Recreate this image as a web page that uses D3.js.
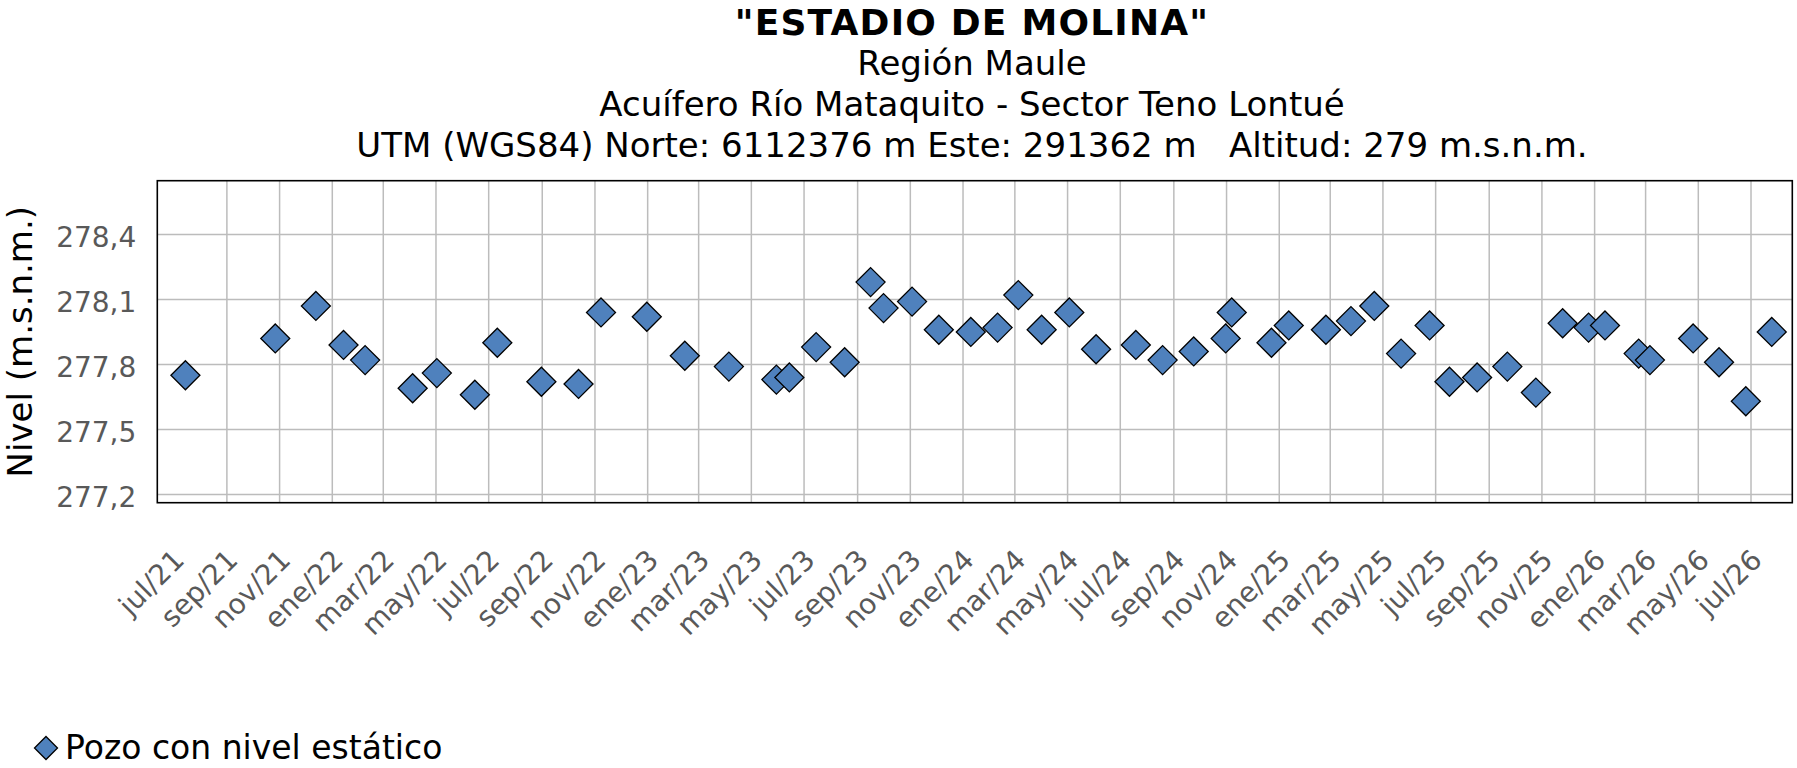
<!DOCTYPE html>
<html>
<head>
<meta charset="utf-8">
<script src="https://cdn.jsdelivr.net/npm/d3@7"></script>
<style>
html,body{margin:0;padding:0;background:#fff;}
svg{display:block;font-family:"DejaVu Sans",Verdana,sans-serif;}
</style>
</head>
<body>
<svg id="chart" width="1797" height="768"></svg>
<script>
// ---- data ----
const dates = ["2021-07-15","2021-10-27","2021-12-13","2022-01-14","2022-02-08","2022-04-04","2022-05-02","2022-06-15","2022-07-11","2022-08-31",
"2022-10-13","2022-11-08","2022-12-31","2023-02-13","2023-04-05","2023-05-30","2023-06-14","2023-07-15","2023-08-17","2023-09-16",
"2023-10-01","2023-11-03","2023-12-04","2024-01-10","2024-02-10","2024-03-05","2024-04-01","2024-05-03","2024-06-03","2024-07-19",
"2024-08-19","2024-09-24","2024-10-31","2024-11-07","2024-12-23","2025-01-12","2025-02-24","2025-03-25","2025-04-21","2025-05-22",
"2025-06-24","2025-07-17","2025-08-18","2025-09-22","2025-10-25","2025-11-25","2025-12-25","2026-01-13","2026-02-21","2026-03-06",
"2026-04-25","2026-05-25","2026-06-25","2026-07-25"];
const levels = [277.75,277.92,278.07,277.89,277.82,277.69,277.76,277.66,277.90,277.72,
277.71,278.04,278.02,277.84,277.79,277.73,277.74,277.88,277.81,278.18,
278.06,278.09,277.96,277.95,277.97,278.12,277.96,278.04,277.87,277.89,
277.82,277.86,277.92,278.04,277.90,277.98,277.96,278.00,278.07,277.85,
277.98,277.72,277.74,277.79,277.67,277.99,277.97,277.98,277.85,277.82,
277.92,277.81,277.63,277.95];
const tickLabels = ["jul/21","sep/21","nov/21","ene/22","mar/22","may/22","jul/22","sep/22","nov/22","ene/23",
"mar/23","may/23","jul/23","sep/23","nov/23","ene/24","mar/24","may/24","jul/24","sep/24",
"nov/24","ene/25","mar/25","may/25","jul/25","sep/25","nov/25","ene/26","mar/26","may/26","jul/26"];
const yTicks = [277.2, 277.5, 277.8, 278.1, 278.4];
const xDomain = ["2021-06-12T11:00","2026-08-17T19:00"];
const yDomain = [277.162, 278.648];
const titleMain = "\"ESTADIO DE MOLINA\"";
const subtitles = ["Región Maule","Acuífero Río Mataquito - Sector Teno Lontué","UTM (WGS84) Norte: 6112376 m Este: 291362 m   Altitud: 279 m.s.n.m."];
const yTitle = "Nivel (m.s.n.m.)";
const seriesName = "Pozo con nivel estático";

// ---- layout ----
const W = 1797, H = 768;
const m = {left:157.3, right:4.7, top:180.7, bottom:265.3};
const pw = W - m.left - m.right, ph = H - m.top - m.bottom;
const markerFill = "#4F81BD";
const gridColor = "#bcbcbc";
const tickColor = "#595959";

const svg = d3.select("#chart");
const parseD = d3.utcParse("%Y-%m-%d");
const parseDT = d3.utcParse("%Y-%m-%dT%H:%M");
const x = d3.scaleUtc().domain(xDomain.map(parseDT)).range([0, pw]);
const y = d3.scaleLinear().domain(yDomain).range([ph, 0]);
const loc = d3.formatLocale({decimal:",", thousands:".", grouping:[3], currency:["$",""]});
const fmt = loc.format(".1f");

const tickDates = d3.utcMonth.every(2).range(parseD("2021-07-01"), parseD("2026-07-02"));
const gridDates = tickDates.slice(1);

const g = svg.append("g").attr("transform", `translate(${m.left},${m.top})`);

// gridlines
g.append("g").selectAll("line").data(gridDates).join("line")
  .attr("x1", d => x(d)).attr("x2", d => x(d)).attr("y1", 0).attr("y2", ph)
  .attr("stroke", gridColor).attr("stroke-width", 1.5);
g.append("g").selectAll("line").data(yTicks).join("line")
  .attr("x1", 0).attr("x2", pw).attr("y1", d => y(d)).attr("y2", d => y(d))
  .attr("stroke", gridColor).attr("stroke-width", 1.5);

// border
g.append("rect").attr("x",0).attr("y",0).attr("width",pw).attr("height",ph)
  .attr("fill","none").attr("stroke","#000").attr("stroke-width",1.6);

// y axis labels
const yAxis = g.append("g").call(d3.axisLeft(y).tickValues(yTicks).tickFormat(fmt).tickSize(0).tickPadding(0));
yAxis.select(".domain").remove();
yAxis.selectAll("text").attr("x", -21).attr("dy", null).attr("y", 12)
  .attr("fill", tickColor).style("font-size","28px").style("font-family","'DejaVu Sans',Verdana,sans-serif");

// x axis labels
const xAxis = g.append("g").attr("transform", `translate(0,${ph})`)
  .call(d3.axisBottom(x).tickValues(tickDates).tickFormat((d,i) => tickLabels[i]).tickSize(0));
xAxis.select(".domain").remove();
xAxis.selectAll("text").attr("x", null).attr("y", null).attr("dy", null)
  .attr("text-anchor","end").attr("transform","translate(12,59) rotate(-45)")
  .attr("fill", tickColor).style("font-size","28px").style("font-family","'DejaVu Sans',Verdana,sans-serif");

// markers
const diamond = r => `M0,${-r}L${r},0L0,${r}L${-r},0Z`;
g.append("g").selectAll("path").data(dates.map((d,i) => ({d:parseD(d), v:levels[i]}))).join("path")
  .attr("transform", p => `translate(${x(p.d)},${y(p.v)})`)
  .attr("d", diamond(14.5))
  .attr("fill", markerFill).attr("stroke","#000").attr("stroke-width",1.3);

// titles
const cx = 972;
svg.append("text").attr("x",cx).attr("y",35).attr("text-anchor","middle")
  .style("font-size","36px").style("font-weight","bold").style("letter-spacing","1.2px")
  .attr("fill","#000").text(titleMain);
svg.append("g").selectAll("text").data(subtitles).join("text")
  .attr("x",cx).attr("y",(d,i) => 75 + i*41).attr("text-anchor","middle")
  .style("font-size","34px").style("white-space","pre").attr("fill","#000").text(d => d);

// y title
svg.append("text").attr("transform", `translate(32,${m.top + ph/2}) rotate(-90)`)
  .attr("text-anchor","middle").style("font-size","34px").attr("fill","#000").text(yTitle);

// legend
const lg = svg.append("g").attr("transform","translate(46,748)");
lg.append("path").attr("d", diamond(11.5)).attr("fill", markerFill).attr("stroke","#000").attr("stroke-width",1.3);
lg.append("text").attr("x",19).attr("y",11).style("font-size","33px").attr("fill","#000").text(seriesName);
</script>
</body>
</html>
